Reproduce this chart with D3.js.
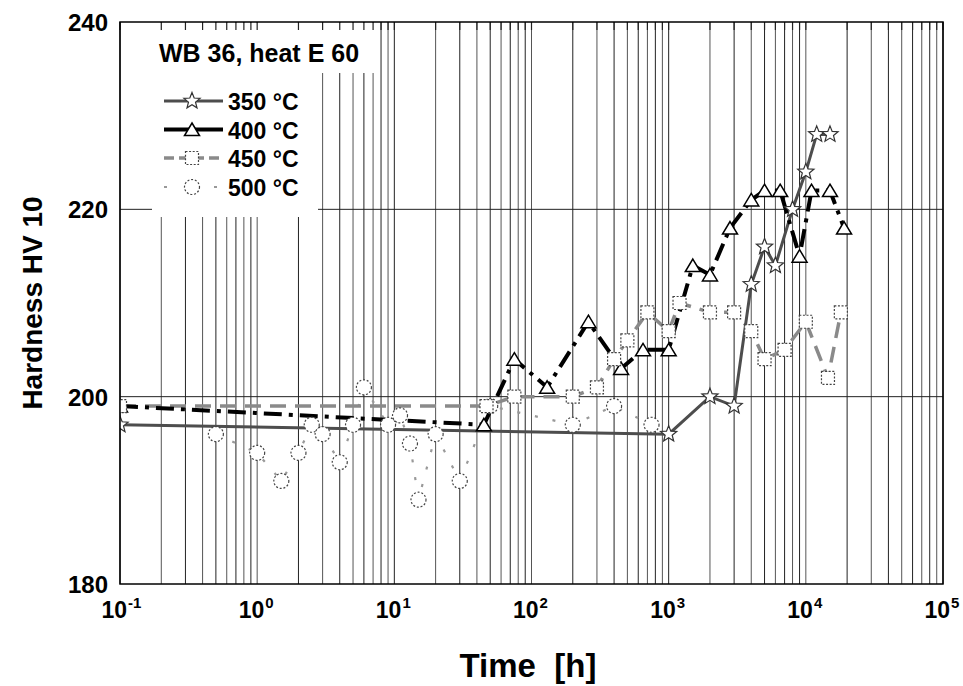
<!DOCTYPE html>
<html>
<head>
<meta charset="utf-8">
<script src="https://cdn.jsdelivr.net/npm/d3@7"></script>
<style>
  html, body { margin: 0; padding: 0; background: #fff; }
  svg { display: block; font-family: "Liberation Sans", Arial, sans-serif; }
</style>
</head>
<body>
<svg id="chart" width="963" height="686"></svg>
<script>
// ---- data ----
const t350 = [0.1, 1000, 2000, 3000, 4000, 5000, 6000, 8000, 10000, 12000, 15000];
const hv350 = [197, 196, 200, 199, 212, 216, 214, 220, 224, 228, 228];

const t400 = [0.1, 45, 75, 130, 260, 450, 650, 1000, 1500, 2000, 2800, 4000, 5000, 6500, 9000, 11000, 15000, 19000];
const hv400 = [199, 197, 204, 201, 208, 203, 205, 205, 214, 213, 218, 221, 222, 222, 215, 222, 222, 218];

const t450 = [0.1, 47, 75, 200, 300, 400, 500, 700, 1000, 1200, 2000, 3000, 4000, 5000, 7000, 10000, 14500, 18000];
const hv450 = [199, 199, 200, 200, 201, 204, 206, 209, 207, 210, 209, 209, 207, 204, 205, 208, 202, 209];

const t500 = [0.5, 1, 1.5, 2, 2.5, 3, 4, 5, 6, 9, 11, 13, 15, 20, 30, 50, 200, 400, 750];
const hv500 = [196, 194, 191, 194, 197, 196, 193, 197, 201, 197, 198, 195, 189, 196, 191, 199, 197, 199, 197];

const seriesNames = ["350 °C", "400 °C", "450 °C", "500 °C"];
const xTickValues = [0.1, 1, 10, 100, 1000, 10000, 100000];
const xTickExponents = ["-1", "0", "1", "2", "3", "4", "5"];
const yTickValues = [180, 200, 220, 240];
const chartTitle = "WB 36, heat E 60";
const xTitle = "Time  [h]";
const yTitle = "Hardness HV 10";

// ---- layout ----
const L = 120, R = 943, T = 22, B = 584;
const svg = d3.select("#chart");
const x = d3.scaleLog().domain([0.1, 1e5]).range([L, R]);
const y = d3.scaleLinear().domain([180, 240]).range([B, T]);

svg.append("defs").append("clipPath").attr("id", "plotclip")
  .append("rect").attr("x", L).attr("y", T).attr("width", R - L).attr("height", B - T);

// gridlines
const grid = svg.append("g");
grid.selectAll("line.v").data(x.ticks()).enter().append("line")
  .attr("x1", d => x(d)).attr("x2", d => x(d)).attr("y1", T).attr("y2", B)
  .attr("stroke", (d, i) => i % 2 ? "#555" : "#222").attr("stroke-width", 1);
grid.selectAll("line.h").data([200, 220]).enter().append("line")
  .attr("x1", L).attr("x2", R).attr("y1", d => y(d)).attr("y2", d => y(d))
  .attr("stroke", "#222").attr("stroke-width", 1);

// legend background boxes (hide gridlines)
svg.append("rect").attr("x", 140).attr("y", T + 1).attr("width", 237).attr("height", 50).attr("fill", "#fff");
svg.append("rect").attr("x", 152).attr("y", 70).attr("width", 166).attr("height", 147).attr("fill", "#fff");

// top inner ticks
svg.append("g").selectAll("line").data(x.ticks()).enter().append("line")
  .attr("x1", d => x(d)).attr("x2", d => x(d)).attr("y1", T).attr("y2", T + 8)
  .attr("stroke", "#222").attr("stroke-width", 1.2);

// marker shapes
function starPath(R1, r1) {
  let p = "";
  for (let i = 0; i < 10; i++) {
    const a = -Math.PI / 2 + i * Math.PI / 5;
    const rr = i % 2 ? r1 : R1;
    p += (i ? "L" : "M") + (rr * Math.cos(a)).toFixed(2) + "," + (rr * Math.sin(a)).toFixed(2);
  }
  return p + "Z";
}
function circlePath(r) { const p = d3.path(); p.arc(0, 0, r, 0, 2 * Math.PI); p.closePath(); return p.toString(); }
const shapes = [
  { path: starPath(8.5, 3.7), stroke: "#333", sw: 1.2, dash: null },
  { path: "M0,-6.5L7.5,6L-7.5,6Z", stroke: "#000", sw: 1.5, dash: null },
  { path: "M-6.5,-6.5H6.5V6.5H-6.5Z", stroke: "#444", sw: 1.2, dash: "2,1.6" },
  { path: circlePath(7.5), stroke: "#444", sw: 1.2, dash: "2,1.8" }
];
const lineStyles = [
  { stroke: "#4d4d4d", sw: 3, dash: null },
  { stroke: "#000", sw: 4, dash: "18,7,4,7" },
  { stroke: "#8a8a8a", sw: 3.5, dash: "16,9" },
  { stroke: "#999", sw: 2.2, dash: "3,15" }
];

const series = [
  { t: t350, v: hv350 },
  { t: t400, v: hv400 },
  { t: t450, v: hv450 },
  { t: t500, v: hv500 }
];

const plot = svg.append("g").attr("clip-path", "url(#plotclip)");
const line = d3.line().x(d => x(d[0])).y(d => y(d[1]));

// lines
[3, 2, 0, 1].forEach(si => {
  const s = series[si], st = lineStyles[si];
  const pts = s.t.map((t, i) => [t, s.v[i]]);
  plot.append("path").datum(pts).attr("d", line)
    .attr("fill", "none").attr("stroke", st.stroke).attr("stroke-width", st.sw)
    .attr("stroke-dasharray", st.dash);
});
// markers
[3, 1, 0, 2].forEach(si => {
  const s = series[si], sh = shapes[si];
  const pts = s.t.map((t, i) => [t, s.v[i]]);
  plot.append("g").selectAll("path").data(pts).enter().append("path")
    .attr("transform", d => `translate(${x(d[0])},${y(d[1])})`)
    .attr("d", sh.path).attr("fill", "#fff")
    .attr("stroke", sh.stroke).attr("stroke-width", sh.sw).attr("stroke-dasharray", sh.dash);
});

// frame
svg.append("rect").attr("x", L).attr("y", T).attr("width", R - L).attr("height", B - T)
  .attr("fill", "none").attr("stroke", "#000").attr("stroke-width", 1.5);

// y axis labels
const yAxis = d3.axisLeft(y).tickValues(yTickValues).tickSize(0).tickPadding(12).tickFormat(d3.format("d"));
const gy = svg.append("g").attr("transform", `translate(${L},0)`).call(yAxis);
gy.select(".domain").remove();
gy.selectAll("text").attr("font-size", 24).attr("font-weight", "bold").attr("fill", "#000")
  .attr("font-family", "Liberation Sans, Arial, sans-serif").attr("dy", "0.36em");

// x axis labels
const xAxis = d3.axisBottom(x).tickValues(xTickValues).tickSize(0).tickFormat("");
const gx = svg.append("g").attr("transform", `translate(0,${B})`).call(xAxis);
gx.select(".domain").remove();
gx.selectAll(".tick").each(function(d, i) {
  const txt = d3.select(this).append("text")
    .attr("x", -19).attr("y", 34).attr("text-anchor", "start")
    .attr("font-size", 23).attr("font-weight", "bold").attr("fill", "#000")
    .attr("font-family", "Liberation Sans, Arial, sans-serif");
  txt.append("tspan").text("10");
  txt.append("tspan").attr("font-size", 15).attr("dy", -10).attr("dx", 1).text(xTickExponents[i]);
});

// axis titles
svg.append("text").attr("x", 528).attr("y", 677).attr("text-anchor", "middle")
  .attr("font-size", 33).attr("font-weight", "bold").attr("xml:space", "preserve")
  .style("white-space", "pre").text(xTitle);
svg.append("text").attr("transform", "translate(42,303) rotate(-90)").attr("text-anchor", "middle")
  .attr("font-size", 28).attr("font-weight", "bold").text(yTitle);

// legend
svg.append("text").attr("x", 159).attr("y", 62).attr("font-size", 25).attr("font-weight", "bold").text(chartTitle);
const rowY = [101, 129.5, 158, 187];
const legLine = [
  { stroke: "#4d4d4d", sw: 3, dash: null },
  { stroke: "#000", sw: 4, dash: null },
  { stroke: "#8a8a8a", sw: 3.5, dash: "10,5" },
  { stroke: "#999", sw: 2.2, dash: "3,22" }
];
seriesNames.forEach((name, i) => {
  const g = svg.append("g");
  g.append("line").attr("x1", 164).attr("x2", 223).attr("y1", rowY[i]).attr("y2", rowY[i])
    .attr("stroke", legLine[i].stroke).attr("stroke-width", legLine[i].sw).attr("stroke-dasharray", legLine[i].dash);
  g.append("path").attr("transform", `translate(192,${rowY[i]})`).attr("d", shapes[i].path)
    .attr("fill", "#fff").attr("stroke", shapes[i].stroke).attr("stroke-width", shapes[i].sw)
    .attr("stroke-dasharray", shapes[i].dash);
  g.append("text").attr("x", 228).attr("y", rowY[i] + 9).attr("font-size", 23).attr("font-weight", "bold").text(name);
});
</script>
</body>
</html>
